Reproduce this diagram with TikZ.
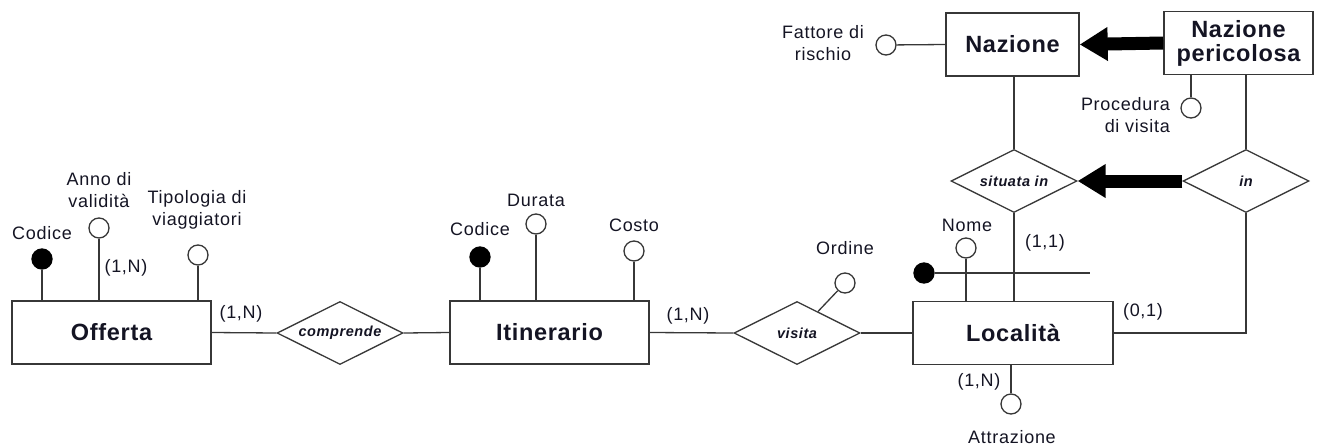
\documentclass[tikz,border=0pt]{standalone}
\usepackage{fontspec}
\setmainfont{Liberation Sans}
\newfontfamily\lblfont[LetterSpace=4]{Liberation Sans}
\newfontfamily\ttlfont[LetterSpace=3]{Liberation Sans}
\usetikzlibrary{shapes.geometric,arrows.meta,calc}
\definecolor{ln}{RGB}{55,55,55}
\definecolor{tx}{RGB}{20,20,35}
\begin{document}
\begin{tikzpicture}[x=1pt,y=-1pt,
  every node/.style={text=tx},
  entity/.style={draw=ln,line width=1.4pt,fill=white,rectangle,inner sep=0pt,minimum height=63pt,
    font=\ttlfont\fontsize{23.5}{25}\selectfont\bfseries,align=center},
  rel/.style={draw=ln,line width=1.3pt,fill=white,diamond,shape aspect=2,inner sep=0pt,minimum width=126pt,minimum height=63pt,
    font=\lblfont\fontsize{14.5}{16}\selectfont\bfseries\itshape},
  attr/.style={draw=ln,line width=1.3pt,fill=white,circle,inner sep=0pt,minimum size=20pt},
  keyattr/.style={attr,fill=black,draw=black},
  lbl/.style={font=\lblfont\fontsize{18}{22}\selectfont,align=center,inner sep=0pt},
  conn/.style={draw=ln,line width=1.3pt},
  isa/.style={draw=black,fill=black,line width=13pt,-{Triangle[length=28pt,width=32pt]}}
]
\useasboundingbox (0,0) rectangle (1318,445);
% entities
\node[entity,minimum width=199pt] (of) at (111.5,332.5) {Offerta};
\node[entity,minimum width=199pt] (it) at (549.5,332.5) {Itinerario};
\node[entity,minimum width=200pt] (loc) at (1013,333) {Località};
\node[entity,minimum width=133pt] (naz) at (1012.5,44.5) {Nazione};
\node[entity,minimum width=149pt] (np) at (1238.5,43) {Nazione\\[-1pt]pericolosa};
% relationships
\node[rel] (comp) at (340,333) {comprende};
\node[rel] (vis) at (797,333) {visita};
\node[rel] (sit) at (1014,181) {situata in};
\node[rel] (inr) at (1246,181) {in};
% main connectors
\draw[conn] (of.east) -- (comp.west);
\draw[conn] (comp.east) -- (it.west);
\draw[conn] (it.east) -- (vis.west);
\draw[conn] (vis.east) -- (loc.west);
\draw[conn] (naz.south -| sit.north) -- (sit.north);
\draw[conn] (sit.south) -- (sit.south |- loc.north);
\draw[conn] (np.south -| inr.north) -- (inr.north);
\draw[conn] (inr.south) |- (loc.east);
% generalisation arrows
\draw[isa] (np.west) -- (naz.east);
\draw[isa] (inr.west) -- (sit.east);
% Offerta attributes
\node[keyattr] (ofcod) at (42,259) {};
\node[attr] (ofanno) at (99,228) {};
\node[attr] (oftip) at (198,255) {};
\draw[conn] (ofcod) -- (ofcod |- of.north);
\draw[conn] (ofanno) -- (ofanno |- of.north);
\draw[conn] (oftip) -- (oftip |- of.north);
\node[lbl] (lofcod) at (42,233) {Codice};
\node[lbl] (lofanno) at (99,190) {Anno di\\validità};
\node[lbl] (loftip) at (197,210) {Tipologia di\\viaggiatori};
\node[lbl] (cofanno) at (126,268) {(1,N)};
% Itinerario attributes
\node[keyattr] (itcod) at (480,257) {};
\node[attr] (itdur) at (536,224) {};
\node[attr] (itcos) at (634,251) {};
\draw[conn] (itcod) -- (itcod |- it.north);
\draw[conn] (itdur) -- (itdur |- it.north);
\draw[conn] (itcos) -- (itcos |- it.north);
\node[lbl] (litcod) at (480,229) {Codice};
\node[lbl] (litdur) at (536,200) {Durata};
\node[lbl] (litcos) at (634,225) {Costo};
% visita attribute
\node[attr] (ord) at (845,283) {};
\coordinate (ordstart) at ($(vis.north)!0.33!(vis.east)$);
\draw[conn] (ordstart) -- (ord);
\node[lbl] (lord) at (845,248) {Ordine};
% Localita attributes
\node[attr] (nome) at (966,248) {};
\draw[conn] (nome) -- (nome |- loc.north);
\node[lbl] (lnome) at (967,225) {Nome};
\node[keyattr] (lockey) at (924,273) {};
\coordinate (keyend) at (1090,273);
\draw[conn] (lockey) -- (keyend);
\node[attr] (attr) at (1011,404) {};
\draw[conn] (attr |- loc.south) -- (attr);
\node[lbl] (lattr) at (1012,437) {Attrazione};
% Nazione attributes
\node[attr] (fatt) at (886,45) {};
\draw[conn] (fatt) -- (naz.west);
\node[lbl] (lfatt) at (823,43) {Fattore di\\rischio};
\node[attr] (proc) at (1191,108) {};
\draw[conn] (proc |- np.south) -- (proc);
\node[lbl,align=right,anchor=east] (lproc) at (1170,115) {Procedura\\di visita};
% cardinalities
\node[lbl] (c1) at (241,314) {(1,N)};
\node[lbl] (c2) at (688,316) {(1,N)};
\node[lbl] (c3) at (1045,243) {(1,1)};
\node[lbl] (c4) at (979,382) {(1,N)};
\node[lbl] (c5) at (1143,312) {(0,1)};
\end{tikzpicture}
\end{document}
